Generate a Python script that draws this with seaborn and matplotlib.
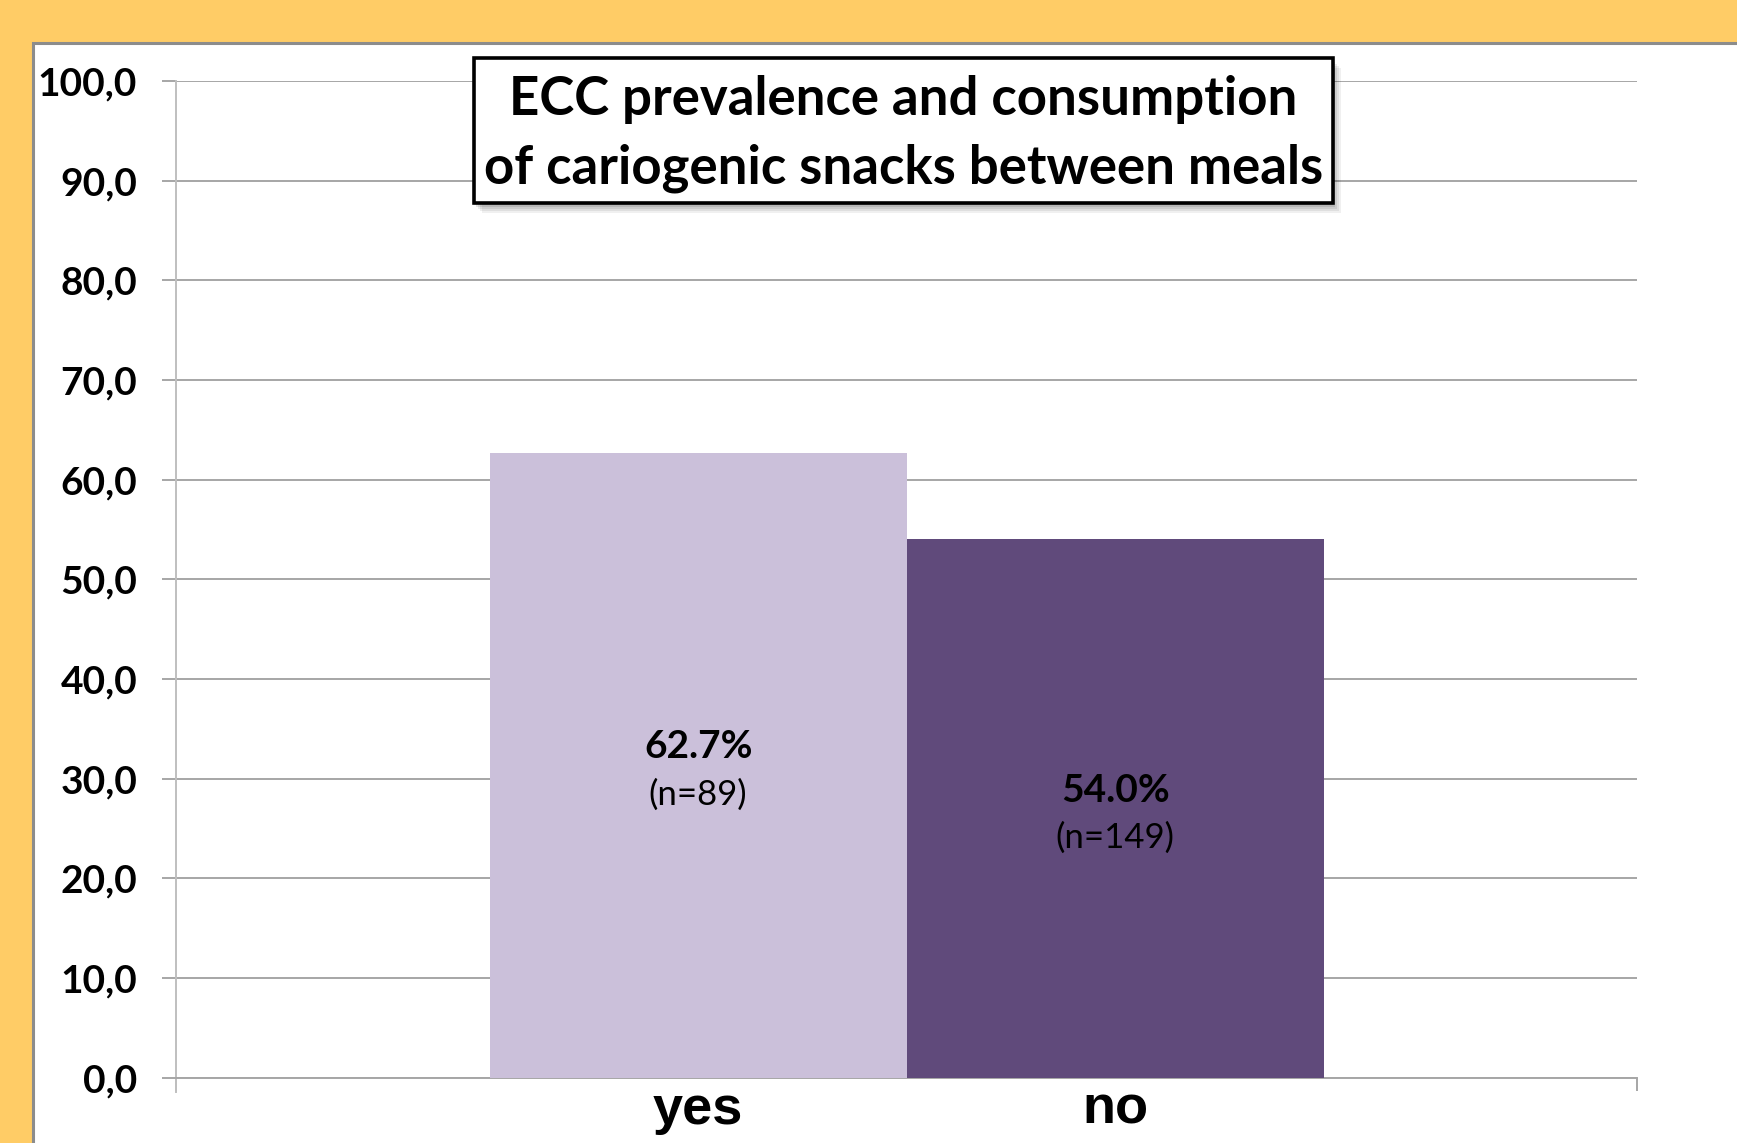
import matplotlib
matplotlib.use("Agg")
import matplotlib.pyplot as plt
from matplotlib.patches import Rectangle
import seaborn as sns
import pandas as pd

# ---- data ----
categories = ["yes", "no"]
prevalence = [62.7, 54.0]
n_values = [89, 149]
pct_labels = ["62.7%", "54.0%"]
yticks = [0, 10, 20, 30, 40, 50, 60, 70, 80, 90, 100]
title_lines = ["ECC prevalence and consumption", "of cariogenic snacks between meals"]

bar_colors = ["#CBC0DA", "#604A7B"]
orange = "#FFCC66"

sns.set_theme(style="white")
plt.rcParams['font.family'] = ['Lato', 'DejaVu Sans']

W, H = 1737, 1143
fig = plt.figure(figsize=(W / 100, H / 100), dpi=100, facecolor=orange)

def fx(px):
    return px / W

def fy(py):
    return 1 - py / H

# white panel with gray border
panel = Rectangle((fx(33), -0.01), 1.0, fy(43) + 0.01, transform=fig.transFigure,
                  facecolor="white", edgecolor="#8C8C8C", linewidth=2.2, zorder=-5)
fig.patches.append(panel)

ax_left, ax_right, ax_top, ax_bot = 176, 1637, 81, 1077.7
ax = fig.add_axes([fx(ax_left), fy(ax_bot), fx(ax_right - ax_left), (ax_bot - ax_top) / H])
ax.set_facecolor("none")

df = pd.DataFrame({"answer": categories, "prev": prevalence})
sns.barplot(data=df, x="answer", y="prev", hue="answer", palette=bar_colors,
            width=1.0, legend=False, ax=ax, saturation=1, zorder=3,
            edgecolor="none", linewidth=0)

ax.set_ylim(0, 100)
ax.set_xlim(-1.252, 2.251)
ax.set_yticks(yticks)
ax.set_yticklabels([f"{v:.1f}".replace(".", ",") for v in yticks],
                   fontsize=28, fontweight="bold", color="black")
ax.yaxis.grid(True, color="#A6A6A6", linewidth=1.4, zorder=0)
ax.set_axisbelow(True)
ax.tick_params(axis="y", direction="out", length=10, width=1.4, color="#A6A6A6",
               pad=18, left=True, labelcolor="black")

# x axis: labels under bars, boundary ticks at the ends
ax.set_xticks([0, 1])
ax.set_xticklabels(categories, fontsize=39, fontweight="bold", color="black",
                   family=["Liberation Sans", "DejaVu Sans"])
ax.set_xticks([-1.252, 2.251], minor=True)
ax.tick_params(axis="x", which="major", length=0, pad=5, labelcolor="black")
ax.tick_params(axis="x", which="minor", direction="out", length=9.5, width=1.4,
               color="#A6A6A6", bottom=True)
ax.set_xlabel("")
ax.set_ylabel("")

for side in ["top", "right"]:
    ax.spines[side].set_visible(False)
ax.spines["left"].set_color("#BFBFBF")
ax.spines["left"].set_linewidth(1.4)
ax.spines["left"].set_bounds(-1.4, 100)
ax.spines["bottom"].set_color("#A6A6A6")
ax.spines["bottom"].set_linewidth(1.4)

# data labels inside bars
for patch, pct, n in zip(ax.patches, pct_labels, n_values):
    cx = patch.get_x() + patch.get_width() / 2
    cy = patch.get_height() / 2
    ax.text(cx, cy + 1.85, pct, ha="center", va="center", fontsize=28,
            fontweight="bold", color="black", zorder=5)
    ax.text(cx, cy - 2.95, f"(n={n})", ha="center", va="center", fontsize=25,
            color="black", zorder=5)

# title box with soft shadow
bx0, bx1, by0, by1 = 474, 1333, 57.6, 202.7
for i, a in enumerate([0.06, 0.07, 0.08, 0.10, 0.12]):
    off = 10 - 2 * i
    sh = Rectangle((fx(bx0 + off - 2), fy(by1 + off)), fx(bx1 - bx0), (by1 - by0) / H,
                   transform=fig.transFigure, facecolor="black", edgecolor="none",
                   alpha=a, zorder=8)
    fig.patches.append(sh)
box = Rectangle((fx(bx0), fy(by1)), fx(bx1 - bx0), (by1 - by0) / H,
                transform=fig.transFigure, facecolor="white", edgecolor="black",
                linewidth=2.6, zorder=9)
fig.patches.append(box)
fig.text(fx((bx0 + bx1) / 2), fy(99.5), title_lines[0], ha="center", va="center",
         fontsize=38, fontweight="bold", color="black", zorder=10)
fig.text(fx((bx0 + bx1) / 2), fy(168.4), title_lines[1], ha="center", va="center",
         fontsize=38, fontweight="bold", color="black", zorder=10)

fig.savefig("out.png", dpi=100, facecolor=orange)
